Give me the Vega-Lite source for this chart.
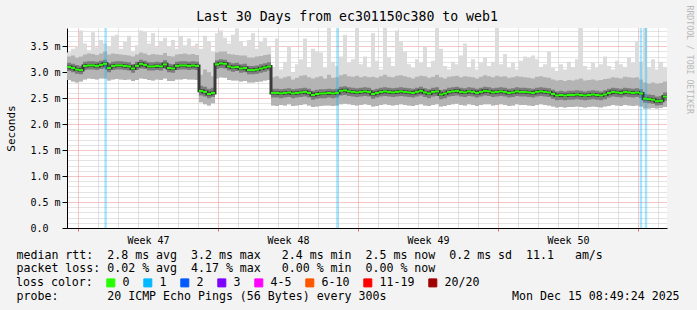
{
"$schema": "https://vega.github.io/schema/vega-lite/v6.json",
"width": 600, "height": 200,
"autosize": "none",
"padding": {"left": 67, "top": 28, "right": 30, "bottom": 82},
"background": "#f3f3f3",
"config": {
 "view": {"fill": "#ffffff", "stroke": null},
 "font": "DejaVu Sans Mono",
 "axis": {"labelFont": "DejaVu Sans Mono", "titleFont": "DejaVu Sans Mono", "labelColor": "#000", "titleColor": "#000", "titleFontWeight": "normal"}
},
"title": {"text": "Last 30 Days from ec301150c380 to web1", "font": "DejaVu Sans Mono", "fontSize": 13.2, "fontWeight": "normal", "color": "#000", "anchor": "middle", "frame": "group", "dx": -20, "dy": 23},
"datasets": {
"smoke": [
{"t":0.0,"m":3.10,"lo":2.85,"l1":3.02,"h1":3.18,"hi":3.30,"mx":3.38},
{"t":0.2,"m":3.08,"lo":2.82,"l1":3.00,"h1":3.16,"hi":3.32,"mx":3.45},
{"t":0.4,"m":3.05,"lo":2.80,"l1":2.97,"h1":3.14,"hi":3.28,"mx":3.50},
{"t":0.6,"m":3.04,"lo":2.82,"l1":2.96,"h1":3.12,"hi":3.30,"mx":3.80},
{"t":0.8,"m":3.12,"lo":2.86,"l1":3.04,"h1":3.20,"hi":3.34,"mx":3.55},
{"t":1.0,"m":3.13,"lo":2.88,"l1":3.05,"h1":3.21,"hi":3.36,"mx":3.42},
{"t":1.2,"m":3.13,"lo":2.87,"l1":3.05,"h1":3.21,"hi":3.35,"mx":3.77},
{"t":1.4,"m":3.12,"lo":2.86,"l1":3.04,"h1":3.20,"hi":3.33,"mx":3.48},
{"t":1.6,"m":3.14,"lo":2.88,"l1":3.06,"h1":3.22,"hi":3.36,"mx":3.62},
{"t":1.8,"m":3.16,"lo":2.88,"l1":3.07,"h1":3.24,"hi":3.40,"mx":3.55},
{"t":2.0,"m":3.08,"lo":2.84,"l1":3.00,"h1":3.17,"hi":3.34,"mx":3.50},
{"t":2.2,"m":3.12,"lo":2.86,"l1":3.04,"h1":3.20,"hi":3.36,"mx":3.70},
{"t":2.4,"m":3.13,"lo":2.87,"l1":3.05,"h1":3.21,"hi":3.35,"mx":3.72},
{"t":2.6,"m":3.13,"lo":2.86,"l1":3.05,"h1":3.21,"hi":3.34,"mx":3.45},
{"t":2.8,"m":3.12,"lo":2.85,"l1":3.04,"h1":3.20,"hi":3.33,"mx":3.58},
{"t":3.0,"m":3.11,"lo":2.86,"l1":3.03,"h1":3.19,"hi":3.32,"mx":3.70},
{"t":3.2,"m":3.07,"lo":2.83,"l1":2.99,"h1":3.15,"hi":3.30,"mx":3.40},
{"t":3.4,"m":3.12,"lo":2.85,"l1":3.04,"h1":3.20,"hi":3.34,"mx":3.52},
{"t":3.6,"m":3.16,"lo":2.88,"l1":3.07,"h1":3.24,"hi":3.38,"mx":3.80},
{"t":3.8,"m":3.14,"lo":2.87,"l1":3.06,"h1":3.22,"hi":3.36,"mx":3.78},
{"t":4.0,"m":3.11,"lo":2.85,"l1":3.03,"h1":3.19,"hi":3.33,"mx":3.55},
{"t":4.2,"m":3.11,"lo":2.84,"l1":3.03,"h1":3.19,"hi":3.35,"mx":3.75},
{"t":4.4,"m":3.12,"lo":2.86,"l1":3.04,"h1":3.20,"hi":3.34,"mx":3.48},
{"t":4.6,"m":3.11,"lo":2.85,"l1":3.03,"h1":3.19,"hi":3.33,"mx":3.60},
{"t":4.8,"m":3.15,"lo":2.88,"l1":3.07,"h1":3.23,"hi":3.37,"mx":3.66},
{"t":5.0,"m":3.08,"lo":2.83,"l1":3.00,"h1":3.16,"hi":3.31,"mx":3.50},
{"t":5.2,"m":3.07,"lo":2.83,"l1":2.99,"h1":3.15,"hi":3.30,"mx":3.62},
{"t":5.4,"m":3.12,"lo":2.86,"l1":3.04,"h1":3.20,"hi":3.34,"mx":3.45},
{"t":5.6,"m":3.13,"lo":2.86,"l1":3.05,"h1":3.21,"hi":3.35,"mx":3.70},
{"t":5.8,"m":3.13,"lo":2.87,"l1":3.05,"h1":3.21,"hi":3.36,"mx":3.52},
{"t":6.0,"m":3.12,"lo":2.86,"l1":3.04,"h1":3.20,"hi":3.34,"mx":3.65},
{"t":6.2,"m":3.13,"lo":2.86,"l1":3.05,"h1":3.21,"hi":3.35,"mx":3.48},
{"t":6.4,"m":3.12,"lo":2.85,"l1":3.04,"h1":3.20,"hi":3.33,"mx":3.55},
{"t":6.6,"m":2.64,"lo":2.42,"l1":2.55,"h1":2.74,"hi":2.95,"mx":3.45},
{"t":6.8,"m":2.62,"lo":2.38,"l1":2.53,"h1":2.72,"hi":3.05,"mx":3.70},
{"t":7.0,"m":2.58,"lo":2.36,"l1":2.50,"h1":2.68,"hi":3.00,"mx":3.60},
{"t":7.2,"m":2.60,"lo":2.40,"l1":2.52,"h1":2.70,"hi":2.92,"mx":3.40},
{"t":7.4,"m":3.15,"lo":2.88,"l1":3.06,"h1":3.23,"hi":3.38,"mx":3.75},
{"t":7.6,"m":3.17,"lo":2.90,"l1":3.08,"h1":3.25,"hi":3.40,"mx":3.80},
{"t":7.8,"m":3.16,"lo":2.89,"l1":3.07,"h1":3.24,"hi":3.40,"mx":3.66},
{"t":8.0,"m":3.11,"lo":2.85,"l1":3.03,"h1":3.19,"hi":3.35,"mx":3.55},
{"t":8.2,"m":3.09,"lo":2.84,"l1":3.01,"h1":3.17,"hi":3.34,"mx":3.72},
{"t":8.4,"m":3.10,"lo":2.84,"l1":3.02,"h1":3.18,"hi":3.33,"mx":3.84},
{"t":8.6,"m":3.07,"lo":2.82,"l1":2.99,"h1":3.15,"hi":3.32,"mx":3.60},
{"t":8.8,"m":3.08,"lo":2.83,"l1":3.00,"h1":3.16,"hi":3.32,"mx":3.50},
{"t":9.0,"m":3.04,"lo":2.80,"l1":2.96,"h1":3.12,"hi":3.28,"mx":3.62},
{"t":9.2,"m":3.04,"lo":2.80,"l1":2.96,"h1":3.12,"hi":3.28,"mx":3.75},
{"t":9.4,"m":3.05,"lo":2.81,"l1":2.97,"h1":3.13,"hi":3.30,"mx":3.45},
{"t":9.6,"m":3.07,"lo":2.82,"l1":2.99,"h1":3.15,"hi":3.31,"mx":3.58},
{"t":9.8,"m":3.09,"lo":2.84,"l1":3.01,"h1":3.17,"hi":3.33,"mx":3.66},
{"t":10.0,"m":3.11,"lo":2.85,"l1":3.03,"h1":3.19,"hi":3.34,"mx":3.50},
{"t":10.2,"m":2.60,"lo":2.36,"l1":2.51,"h1":2.68,"hi":2.90,"mx":3.10},
{"t":10.4,"m":2.60,"lo":2.35,"l1":2.51,"h1":2.68,"hi":2.92,"mx":3.65},
{"t":10.6,"m":2.59,"lo":2.37,"l1":2.50,"h1":2.67,"hi":2.88,"mx":3.05},
{"t":10.8,"m":2.60,"lo":2.36,"l1":2.51,"h1":2.68,"hi":2.90,"mx":3.20},
{"t":11.0,"m":2.61,"lo":2.38,"l1":2.52,"h1":2.69,"hi":2.92,"mx":3.50},
{"t":11.2,"m":2.59,"lo":2.35,"l1":2.50,"h1":2.67,"hi":2.86,"mx":3.00},
{"t":11.4,"m":2.60,"lo":2.36,"l1":2.51,"h1":2.68,"hi":2.89,"mx":3.15},
{"t":11.6,"m":2.61,"lo":2.37,"l1":2.52,"h1":2.69,"hi":2.93,"mx":3.25},
{"t":11.8,"m":2.62,"lo":2.38,"l1":2.53,"h1":2.70,"hi":2.94,"mx":3.65},
{"t":12.0,"m":2.60,"lo":2.36,"l1":2.51,"h1":2.68,"hi":2.90,"mx":3.10},
{"t":12.2,"m":2.56,"lo":2.33,"l1":2.47,"h1":2.64,"hi":2.88,"mx":3.45},
{"t":12.4,"m":2.58,"lo":2.34,"l1":2.49,"h1":2.66,"hi":2.90,"mx":3.40},
{"t":12.6,"m":2.59,"lo":2.35,"l1":2.50,"h1":2.67,"hi":2.92,"mx":3.38},
{"t":12.8,"m":2.59,"lo":2.36,"l1":2.50,"h1":2.67,"hi":2.88,"mx":3.08},
{"t":13.0,"m":2.60,"lo":2.36,"l1":2.51,"h1":2.68,"hi":2.95,"mx":3.85},
{"t":13.2,"m":2.59,"lo":2.35,"l1":2.50,"h1":2.67,"hi":2.89,"mx":3.20},
{"t":13.4,"m":2.60,"lo":2.36,"l1":2.51,"h1":2.68,"hi":2.90,"mx":3.12},
{"t":13.6,"m":2.64,"lo":2.38,"l1":2.55,"h1":2.72,"hi":2.94,"mx":3.30},
{"t":13.8,"m":2.65,"lo":2.39,"l1":2.56,"h1":2.73,"hi":2.96,"mx":3.72},
{"t":14.0,"m":2.63,"lo":2.38,"l1":2.54,"h1":2.71,"hi":2.92,"mx":3.18},
{"t":14.2,"m":2.62,"lo":2.37,"l1":2.53,"h1":2.70,"hi":2.91,"mx":3.25},
{"t":14.4,"m":2.61,"lo":2.36,"l1":2.52,"h1":2.69,"hi":2.93,"mx":3.85},
{"t":14.6,"m":2.62,"lo":2.37,"l1":2.53,"h1":2.70,"hi":2.90,"mx":3.15},
{"t":14.8,"m":2.63,"lo":2.38,"l1":2.54,"h1":2.71,"hi":2.92,"mx":3.30},
{"t":15.0,"m":2.62,"lo":2.37,"l1":2.53,"h1":2.70,"hi":2.90,"mx":3.10},
{"t":15.2,"m":2.58,"lo":2.34,"l1":2.49,"h1":2.66,"hi":2.91,"mx":3.75},
{"t":15.4,"m":2.60,"lo":2.35,"l1":2.51,"h1":2.68,"hi":2.89,"mx":3.22},
{"t":15.6,"m":2.62,"lo":2.37,"l1":2.53,"h1":2.70,"hi":2.92,"mx":3.05},
{"t":15.8,"m":2.63,"lo":2.38,"l1":2.54,"h1":2.71,"hi":2.95,"mx":3.85},
{"t":16.0,"m":2.62,"lo":2.37,"l1":2.53,"h1":2.70,"hi":2.91,"mx":3.28},
{"t":16.2,"m":2.61,"lo":2.36,"l1":2.52,"h1":2.69,"hi":2.90,"mx":3.12},
{"t":16.4,"m":2.62,"lo":2.37,"l1":2.53,"h1":2.70,"hi":2.93,"mx":3.80},
{"t":16.6,"m":2.63,"lo":2.38,"l1":2.54,"h1":2.71,"hi":2.94,"mx":3.60},
{"t":16.8,"m":2.62,"lo":2.37,"l1":2.53,"h1":2.70,"hi":2.92,"mx":3.40},
{"t":17.0,"m":2.61,"lo":2.36,"l1":2.52,"h1":2.69,"hi":2.90,"mx":3.15},
{"t":17.2,"m":2.60,"lo":2.35,"l1":2.51,"h1":2.68,"hi":2.88,"mx":3.08},
{"t":17.4,"m":2.62,"lo":2.37,"l1":2.53,"h1":2.70,"hi":2.91,"mx":3.25},
{"t":17.6,"m":2.64,"lo":2.38,"l1":2.55,"h1":2.72,"hi":2.93,"mx":3.18},
{"t":17.8,"m":2.61,"lo":2.36,"l1":2.52,"h1":2.69,"hi":2.92,"mx":3.50},
{"t":18.0,"m":2.59,"lo":2.35,"l1":2.50,"h1":2.67,"hi":2.89,"mx":3.10},
{"t":18.2,"m":2.62,"lo":2.37,"l1":2.53,"h1":2.70,"hi":2.91,"mx":3.22},
{"t":18.4,"m":2.63,"lo":2.38,"l1":2.54,"h1":2.71,"hi":2.95,"mx":3.85},
{"t":18.6,"m":2.57,"lo":2.34,"l1":2.48,"h1":2.65,"hi":2.90,"mx":3.45},
{"t":18.8,"m":2.59,"lo":2.35,"l1":2.50,"h1":2.67,"hi":2.88,"mx":3.12},
{"t":19.0,"m":2.62,"lo":2.37,"l1":2.53,"h1":2.70,"hi":2.91,"mx":3.05},
{"t":19.2,"m":2.63,"lo":2.38,"l1":2.54,"h1":2.71,"hi":2.92,"mx":3.20},
{"t":19.4,"m":2.64,"lo":2.39,"l1":2.55,"h1":2.72,"hi":2.93,"mx":3.15},
{"t":19.6,"m":2.62,"lo":2.37,"l1":2.53,"h1":2.70,"hi":2.90,"mx":3.32},
{"t":19.8,"m":2.61,"lo":2.36,"l1":2.52,"h1":2.69,"hi":2.92,"mx":3.55},
{"t":20.0,"m":2.63,"lo":2.38,"l1":2.54,"h1":2.71,"hi":2.91,"mx":3.10},
{"t":20.2,"m":2.62,"lo":2.37,"l1":2.53,"h1":2.70,"hi":2.90,"mx":3.25},
{"t":20.4,"m":2.60,"lo":2.35,"l1":2.51,"h1":2.68,"hi":2.88,"mx":3.05},
{"t":20.6,"m":2.62,"lo":2.37,"l1":2.53,"h1":2.70,"hi":2.91,"mx":3.18},
{"t":20.8,"m":2.64,"lo":2.38,"l1":2.55,"h1":2.72,"hi":2.94,"mx":3.28},
{"t":21.0,"m":2.63,"lo":2.38,"l1":2.54,"h1":2.71,"hi":2.92,"mx":3.12},
{"t":21.2,"m":2.61,"lo":2.36,"l1":2.52,"h1":2.69,"hi":2.90,"mx":3.20},
{"t":21.4,"m":2.62,"lo":2.37,"l1":2.53,"h1":2.70,"hi":2.93,"mx":3.85},
{"t":21.6,"m":2.63,"lo":2.38,"l1":2.54,"h1":2.71,"hi":2.91,"mx":3.15},
{"t":21.8,"m":2.62,"lo":2.37,"l1":2.53,"h1":2.70,"hi":2.92,"mx":3.35},
{"t":22.0,"m":2.60,"lo":2.35,"l1":2.51,"h1":2.68,"hi":2.89,"mx":3.08},
{"t":22.2,"m":2.61,"lo":2.36,"l1":2.52,"h1":2.69,"hi":2.90,"mx":3.18},
{"t":22.4,"m":2.63,"lo":2.38,"l1":2.54,"h1":2.71,"hi":2.92,"mx":3.05},
{"t":22.6,"m":2.62,"lo":2.37,"l1":2.53,"h1":2.70,"hi":2.91,"mx":3.22},
{"t":22.8,"m":2.62,"lo":2.37,"l1":2.53,"h1":2.70,"hi":2.90,"mx":3.30},
{"t":23.0,"m":2.61,"lo":2.36,"l1":2.52,"h1":2.69,"hi":2.89,"mx":3.28},
{"t":23.2,"m":2.60,"lo":2.35,"l1":2.51,"h1":2.68,"hi":2.88,"mx":3.32},
{"t":23.4,"m":2.62,"lo":2.37,"l1":2.53,"h1":2.70,"hi":2.91,"mx":3.25},
{"t":23.6,"m":2.63,"lo":2.38,"l1":2.54,"h1":2.71,"hi":2.92,"mx":3.10},
{"t":23.8,"m":2.62,"lo":2.37,"l1":2.53,"h1":2.70,"hi":2.90,"mx":3.15},
{"t":24.0,"m":2.61,"lo":2.36,"l1":2.52,"h1":2.69,"hi":2.89,"mx":3.40},
{"t":24.2,"m":2.58,"lo":2.34,"l1":2.49,"h1":2.66,"hi":2.86,"mx":3.08},
{"t":24.4,"m":2.55,"lo":2.32,"l1":2.46,"h1":2.63,"hi":2.84,"mx":3.02},
{"t":24.6,"m":2.56,"lo":2.33,"l1":2.47,"h1":2.64,"hi":2.85,"mx":3.15},
{"t":24.8,"m":2.55,"lo":2.32,"l1":2.46,"h1":2.63,"hi":2.83,"mx":3.05},
{"t":25.0,"m":2.56,"lo":2.33,"l1":2.47,"h1":2.64,"hi":2.85,"mx":3.20},
{"t":25.2,"m":2.56,"lo":2.33,"l1":2.47,"h1":2.64,"hi":2.84,"mx":3.10},
{"t":25.4,"m":2.57,"lo":2.34,"l1":2.48,"h1":2.65,"hi":2.86,"mx":3.25},
{"t":25.6,"m":2.56,"lo":2.33,"l1":2.47,"h1":2.64,"hi":2.88,"mx":3.85},
{"t":25.8,"m":2.55,"lo":2.32,"l1":2.46,"h1":2.63,"hi":2.84,"mx":3.12},
{"t":26.0,"m":2.56,"lo":2.33,"l1":2.47,"h1":2.64,"hi":2.85,"mx":3.05},
{"t":26.2,"m":2.57,"lo":2.34,"l1":2.48,"h1":2.65,"hi":2.86,"mx":3.18},
{"t":26.4,"m":2.56,"lo":2.33,"l1":2.47,"h1":2.64,"hi":2.84,"mx":3.08},
{"t":26.6,"m":2.55,"lo":2.32,"l1":2.46,"h1":2.63,"hi":2.85,"mx":3.15},
{"t":26.8,"m":2.57,"lo":2.34,"l1":2.48,"h1":2.65,"hi":2.87,"mx":3.30},
{"t":27.0,"m":2.60,"lo":2.35,"l1":2.51,"h1":2.68,"hi":2.88,"mx":3.12},
{"t":27.2,"m":2.62,"lo":2.37,"l1":2.53,"h1":2.70,"hi":2.90,"mx":3.05},
{"t":27.4,"m":2.61,"lo":2.36,"l1":2.52,"h1":2.69,"hi":2.89,"mx":3.22},
{"t":27.6,"m":2.60,"lo":2.35,"l1":2.51,"h1":2.68,"hi":2.88,"mx":3.15},
{"t":27.8,"m":2.62,"lo":2.37,"l1":2.53,"h1":2.70,"hi":2.91,"mx":3.10},
{"t":28.0,"m":2.61,"lo":2.36,"l1":2.52,"h1":2.69,"hi":2.90,"mx":3.28},
{"t":28.2,"m":2.60,"lo":2.35,"l1":2.51,"h1":2.68,"hi":2.89,"mx":3.18},
{"t":28.4,"m":2.61,"lo":2.36,"l1":2.52,"h1":2.69,"hi":2.90,"mx":3.60},
{"t":28.6,"m":2.59,"lo":2.34,"l1":2.50,"h1":2.67,"hi":2.86,"mx":3.20},
{"t":28.8,"m":2.49,"lo":2.30,"l1":2.41,"h1":2.58,"hi":2.80,"mx":3.85},
{"t":29.0,"m":2.48,"lo":2.30,"l1":2.40,"h1":2.57,"hi":2.78,"mx":3.10},
{"t":29.2,"m":2.47,"lo":2.31,"l1":2.39,"h1":2.56,"hi":2.80,"mx":3.25},
{"t":29.4,"m":2.44,"lo":2.30,"l1":2.36,"h1":2.53,"hi":2.78,"mx":3.05},
{"t":29.6,"m":2.45,"lo":2.31,"l1":2.37,"h1":2.54,"hi":2.79,"mx":3.20},
{"t":29.8,"m":2.53,"lo":2.33,"l1":2.45,"h1":2.61,"hi":2.82,"mx":3.10},
{"t":30.0,"m":2.53,"lo":2.33,"l1":2.45,"h1":2.61,"hi":2.82,"mx":3.10}
],
"loss": [
{"t":1.93,"loss":"1"},
{"t":13.52,"loss":"1"},
{"t":28.7,"loss":"1"},
{"t":28.95,"loss":"1"}
]
},
"layer": [
{
 "data": {"name": "smoke"},
 "mark": {"type": "area", "interpolate": "step-after", "color": "#dcdcdc"},
 "encoding": {
  "x": {"field": "t", "type": "quantitative", "scale": {"domain": [0, 30], "nice": false, "zero": false},
   "axis": {
    "values": [0.55,1.55,2.55,3.55,4.55,5.55,6.55,7.55,8.55,9.55,10.55,11.55,12.55,13.55,14.55,15.55,16.55,17.55,18.55,19.55,20.55,21.55,22.55,23.55,24.55,25.55,26.55,27.55,28.55,29.55,4.05,11.05,18.05,25.05],
    "title": ["median rtt:\u00a0\u00a02.8 ms avg\u00a0\u00a03.2 ms max\u00a0\u00a0\u00a02.4 ms min\u00a0\u00a02.5 ms now\u00a0\u00a00.2 ms sd\u00a0\u00a011.1\u00a0\u00a0\u00a0am/s", "packet loss: 0.02 % avg\u00a0\u00a04.17 % max\u00a0\u00a0\u00a00.00 % min\u00a0\u00a00.00 % now"],
    "titleFontSize": 11.6, "titleAlign": "left", "titleAnchor": "start", "titleBaseline": "alphabetic", "titleAngle": 0, "titleX": -51, "titleY": 30, "titleLineHeight": 13.7,
    "labelExpr": "abs(datum.value - floor(datum.value) - 0.05) < 0.01 ? 'Week ' + (47 + round((datum.value - 4.05) / 7)) : ''",
    "labelFontSize": 10, "labelPadding": 4, "labelOverlap": false, "labelFlush": false, "labelBound": false,
    "grid": true,
    "gridColor": {"condition": {"test": "abs((datum.value - 0.55) / 7 - round((datum.value - 0.55) / 7)) < 0.001", "value": "#eb8c8c"}, "value": "#c4c4c4"},
    "gridOpacity": {"condition": {"test": "abs(datum.value - floor(datum.value) - 0.05) < 0.01", "value": 0}, "value": 1},
    "gridDash": [1, 1],
    "tickSize": 3,
    "tickColor": {"condition": {"test": "abs((datum.value - 0.55) / 7 - round((datum.value - 0.55) / 7)) < 0.001", "value": "#e07070"}, "value": "transparent"},
    "domainColor": "#000"
   }},
  "y": {"field": "lo", "type": "quantitative", "scale": {"domain": [0, 3.85], "nice": false},
   "axis": {
    "values": [0,0.1,0.2,0.3,0.4,0.5,0.6,0.7,0.8,0.9,1,1.1,1.2,1.3,1.4,1.5,1.6,1.7,1.8,1.9,2,2.1,2.2,2.3,2.4,2.5,2.6,2.7,2.8,2.9,3,3.1,3.2,3.3,3.4,3.5,3.6,3.7,3.8],
    "title": "Seconds", "titleFontSize": 11, "titleX": -56, "titleY": 100, "titleAngle": -90, "titleAlign": "center", "titleBaseline": "middle",
    "labelExpr": "abs(datum.value * 2 - round(datum.value * 2)) < 0.001 ? (datum.value < 0.01 ? '0.0' : format(datum.value, '.1f') + ' m') : ''",
    "labelFontSize": 10, "labelAlign": "left", "labelPadding": 32, "labelOverlap": false, "labelBound": false,
    "tickSize": 5,
    "tickColor": {"condition": {"test": "abs(datum.value * 2 - round(datum.value * 2)) < 0.001", "value": "#000"}, "value": "transparent"},
    "grid": true,
    "gridColor": {"condition": {"test": "abs(datum.value * 2 - round(datum.value * 2)) < 0.001", "value": "#eb8c8c"}, "value": "#c8c8c8"},
    "gridDash": [1, 1],
    "domainColor": "#000"
   }},
  "y2": {"field": "mx"}
 }
},
{
 "data": {"name": "smoke"},
 "mark": {"type": "area", "interpolate": "step-after", "color": "#b4b4b4"},
 "encoding": {
  "x": {"field": "t", "type": "quantitative",
   "axis": {"orient": "bottom", "title": "probe:\u00a0\u00a0\u00a0\u00a0\u00a0\u00a0\u00a020 ICMP Echo Pings (56 Bytes) every 300s\u00a0\u00a0\u00a0\u00a0\u00a0\u00a0\u00a0\u00a0\u00a0\u00a0\u00a0\u00a0\u00a0\u00a0\u00a0\u00a0\u00a0\u00a0Mon Dec 15 08:49:24 2025",
    "titleFontSize": 11.6, "titleAlign": "left", "titleAnchor": "start", "titleBaseline": "alphabetic", "titleAngle": 0, "titleX": -51, "titleY": 71.1,
    "labels": false, "ticks": false, "domain": false, "grid": false}},
  "y": {"field": "lo", "type": "quantitative",
   "axis": {"orient": "right", "title": "RRDTOOL / TOBI OETIKER", "titleAngle": 90, "titleX": 21, "titleY": -23, "titleAlign": "left", "titleBaseline": "middle", "titleColor": "#b8b8b8", "titleFontSize": 8.2, "labels": false, "ticks": false, "domain": false, "grid": false}},
  "y2": {"field": "hi"}
 }
},
{
 "data": {"name": "smoke"},
 "mark": {"type": "area", "interpolate": "step-after", "color": "#7c7c7c"},
 "encoding": {
  "x": {"field": "t", "type": "quantitative", "axis": null},
  "y": {"field": "l1", "type": "quantitative", "axis": null},
  "y2": {"field": "h1"}
 }
},
{
 "data": {"name": "smoke"},
 "mark": {"type": "line", "interpolate": "step-after", "color": "#3a3a3a", "strokeWidth": 3},
 "encoding": {
  "x": {"field": "t", "type": "quantitative", "axis": null},
  "y": {"field": "m", "type": "quantitative", "axis": null}
 }
},
{
 "data": {"name": "loss"},
 "mark": {"type": "rule", "strokeWidth": 2.5, "opacity": 0.35},
 "encoding": {
  "x": {"field": "t", "type": "quantitative", "axis": null},
  "color": {"field": "loss", "type": "nominal",
   "scale": {"domain": ["0","1","2","3","4-5","6-10","11-19","20/20"], "range": ["#26ff00","#00b8ff","#0059ff","#7e00ff","#ff00ff","#ff5500","#ff0000","#a00000"]},
   "legend": {"orient": "none", "legendX": -51, "legendY": 249, "direction": "horizontal",
    "title": "loss color:", "titleOrient": "left", "titleFont": "DejaVu Sans Mono", "titleFontSize": 11.6, "titleFontWeight": "normal", "titleColor": "#000", "titlePadding": 12,
    "labelFont": "DejaVu Sans Mono", "labelFontSize": 11.6, "labelColor": "#000", "labelOffset": 6,
    "symbolType": "square", "symbolSize": 64, "symbolStrokeWidth": 1, "symbolOpacity": 1, "columnPadding": 11,
    "encode": {"symbols": {"update": {"fill": {"scale": "color", "field": "value"}, "stroke": {"value": "#000"}, "opacity": {"value": 1}, "fillOpacity": {"value": 1}, "strokeOpacity": {"value": 1}}}}
   }}
 }
},
{
 "data": {"name": "smoke"},
 "transform": [{"window": [{"op": "lead", "field": "t", "as": "t2"}], "sort": [{"field": "t"}]}],
 "mark": {"type": "rule", "color": "#26ff00", "strokeWidth": 2},
 "encoding": {
  "x": {"field": "t", "type": "quantitative", "axis": null},
  "x2": {"field": "t2"},
  "y": {"field": "m", "type": "quantitative", "axis": null}
 }
}
],
"resolve": {"axis": {"y": "independent", "x": "independent"}}
}
